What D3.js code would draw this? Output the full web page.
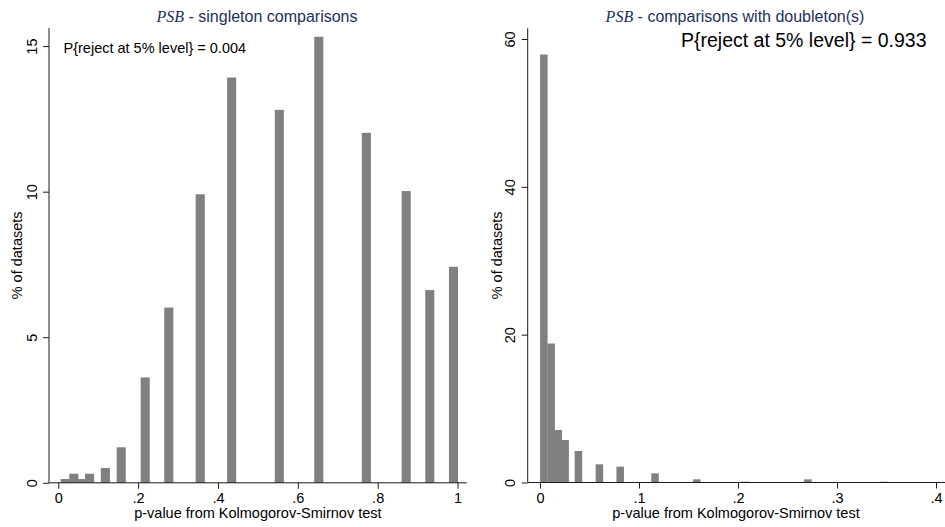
<!DOCTYPE html>
<html>
<head>
<meta charset="utf-8">
<script src="https://cdn.jsdelivr.net/npm/d3@7"></script>
<style>
  html, body { margin: 0; padding: 0; background: #fff; }
  svg { display: block; font-family: "Liberation Sans", Arial, Helvetica, sans-serif; }
</style>
</head>
<body>
<svg id="chart" width="945" height="527"></svg>
<script>
// Singleton comparisons: distinct p-values and % of datasets at each
const singletonP   = [0.0172, 0.0388, 0.060, 0.0782, 0.1179, 0.1576, 0.2177, 0.2768,
                      0.3555, 0.4342, 0.5537, 0.6526, 0.7717, 0.8715, 0.9306, 0.990];
const singletonPct = [0.13, 0.31, 0.13, 0.31, 0.51, 1.22, 3.62, 6.02,
                      9.91, 13.92, 12.81, 15.32, 12.02, 10.02, 6.62, 7.42];

// Comparisons with doubleton(s)
const doubletonP   = [0.0039, 0.0113, 0.0184, 0.0254, 0.0388, 0.0600, 0.0810,
                      0.1162, 0.1584, 0.2076, 0.2706, 0.3475];
const doubletonPct = [57.9, 18.8, 7.1, 5.75, 4.26, 2.46, 2.14,
                      1.24, 0.43, 0.11, 0.43, 0.11];

const leftXTicks  = [0, 0.2, 0.4, 0.6, 0.8, 1];
const leftYTicks  = [0, 5, 10, 15];
const rightXTicks = [0, 0.1, 0.2, 0.3, 0.4];
const rightYTicks = [0, 20, 40, 60];

const titles = ["singleton comparisons", "comparisons with doubleton(s)"];
const notes  = ["P{reject at 5% level} = 0.004", "P{reject at 5% level} = 0.933"];
const xTitle = "p-value from Kolmogorov-Smirnov test";
const yTitle = "% of datasets";

const svg = d3.select("#chart");
const barColor = "#808080";
const axisColor = "#1a1a1a";
const titleColor = "#1e2f5c";

const fmtTick = v => v === 0 ? "0" : (v === 1 ? "1" : d3.format(".1f")(v).replace(/^0/, ""));

const panels = [
  {
    p: singletonP, pct: singletonPct, xTicks: leftXTicks, yTicks: leftYTicks,
    xDomain: [0, 1], xRange: [58.3, 457.5],
    yDomain: [0, 15], yRange: [482.8, 46.1],
    axisLeft: 49, axisRight: 466.7, axisTop: 28,
    barW: 0.0228, title: titles[0], note: notes[0],
    noteX: 63.5, noteY: 53, noteAnchor: "start", noteSize: 14.5,
    titleX: 257, yTitleX: 21.5, xTitleX: 257.9
  },
  {
    p: doubletonP, pct: doubletonPct, xTicks: rightXTicks, yTicks: rightYTicks,
    xDomain: [0, 0.4], xRange: [540, 936],
    yDomain: [0, 60], yRange: [482.5, 39],
    axisLeft: 527.7, axisRight: 948.3, axisTop: 28.3,
    barW: 0.0076, title: titles[1], note: notes[1],
    noteX: 926.5, noteY: 47, noteAnchor: "end", noteSize: 19.5,
    titleX: 735, yTitleX: 501.5, xTitleX: 736
  }
];

panels.forEach(cfg => {
  const x = d3.scaleLinear().domain(cfg.xDomain).range(cfg.xRange);
  const y = d3.scaleLinear().domain(cfg.yDomain).range(cfg.yRange);
  const g = svg.append("g");
  const base = y(0);

  // bars
  const bars = cfg.p.map((v, i) => ({ p: v, pct: cfg.pct[i] }));
  g.append("g").selectAll("rect").data(bars).join("rect")
    .attr("x", d => x(d.p - cfg.barW / 2))
    .attr("width", d => x(d.p + cfg.barW / 2) - x(d.p - cfg.barW / 2))
    .attr("y", d => y(d.pct))
    .attr("height", d => base - y(d.pct))
    .attr("fill", barColor);

  // x axis
  const xa = g.append("g").attr("transform", `translate(0,${base})`)
    .call(d3.axisBottom(x).tickValues(cfg.xTicks).tickFormat(fmtTick).tickSize(6).tickSizeOuter(0));
  xa.select(".domain").remove();
  xa.selectAll(".tick line").attr("stroke", axisColor);
  xa.selectAll(".tick text")
    .attr("y", 20.5).attr("dy", 0)
    .attr("fill", "#000")
    .style("font-size", "14.5px");
  g.append("line")
    .attr("x1", cfg.axisLeft).attr("x2", cfg.axisRight)
    .attr("y1", base).attr("y2", base)
    .attr("stroke", axisColor).attr("stroke-width", 1);

  // y axis
  const ya = g.append("g").attr("transform", `translate(${cfg.axisLeft},0)`)
    .call(d3.axisLeft(y).tickValues(cfg.yTicks).tickFormat(d3.format("d")).tickSize(6).tickSizeOuter(0));
  ya.select(".domain").remove();
  ya.selectAll(".tick line").attr("stroke", axisColor);
  ya.selectAll(".tick text")
    .attr("dy", 0)
    .attr("transform", "rotate(-90)")
    .attr("x", 0).attr("y", -12.5)
    .attr("text-anchor", "middle")
    .attr("fill", "#000")
    .style("font-size", "14.5px");
  g.append("line")
    .attr("x1", cfg.axisLeft).attr("x2", cfg.axisLeft)
    .attr("y1", cfg.axisTop).attr("y2", base)
    .attr("stroke", axisColor).attr("stroke-width", 1);

  // axis titles
  g.append("text")
    .attr("x", cfg.xTitleX).attr("y", 518)
    .attr("text-anchor", "middle")
    .style("font-size", "14.5px")
    .text(xTitle);
  const midY = (cfg.axisTop + base) / 2;
  g.append("text")
    .attr("transform", `translate(${cfg.yTitleX},${midY}) rotate(-90)`)
    .attr("text-anchor", "middle")
    .style("font-size", "14.5px")
    .text(yTitle);

  // panel title
  const t = g.append("text")
    .attr("x", cfg.titleX).attr("y", 22)
    .attr("text-anchor", "middle")
    .attr("fill", titleColor)
    .style("font-size", "16px");
  t.append("tspan")
    .style("font-family", "'Liberation Serif', 'Times New Roman', serif")
    .style("font-style", "italic")
    .text("PSB");
  t.append("tspan").text(" - " + cfg.title);

  // rejection-rate note
  g.append("text")
    .attr("x", cfg.noteX).attr("y", cfg.noteY)
    .attr("text-anchor", cfg.noteAnchor)
    .style("font-size", cfg.noteSize + "px")
    .text(cfg.note);
});
</script>
</body>
</html>
